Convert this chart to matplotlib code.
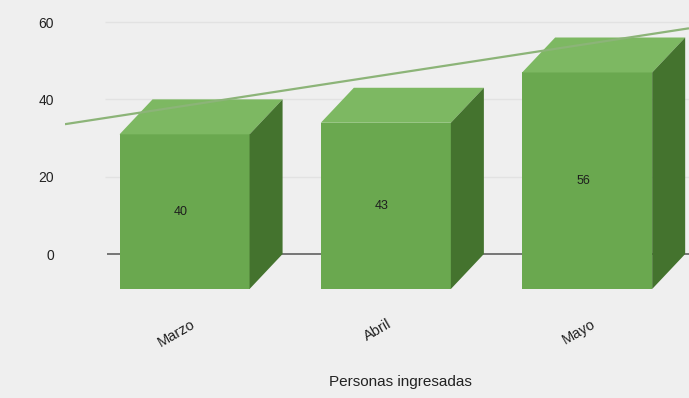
import numpy as np
import matplotlib
matplotlib.use("Agg")
from matplotlib import pyplot as plt
from matplotlib.patches import Polygon

plt.rcParams['font.family'] = ['Liberation Sans', 'DejaVu Sans']

# ---- data ----
months = ["Marzo", "Abril", "Mayo"]
personas = [40, 43, 56]
y_ticks = [0, 20, 40, 60]
x_title = "Personas ingresadas"

# ---- style ----
bg = "#efefef"
front_c = "#6aa84f"
top_c = "#7db862"
side_c = "#44732e"
trend_c = "#8cb478"
half_w = 0.323          # half width of the front face (category units)
depth_x = 0.164         # 3D depth offset, category units
depth_y = 9.05          # 3D depth offset, value units

fig = plt.figure(figsize=(6.89, 3.98), dpi=100, facecolor=bg)
ax = fig.add_axes([0.0943, 0.2452, 0.9057, 0.748])
ax.set_facecolor(bg)
ax.set_xlim(-0.594, 2.506)
ax.set_ylim(-12, 65)

x = np.arange(len(months))

# gridlines + baseline (drawn at the back plane)
for t in y_ticks[1:]:
    ax.hlines(t, -0.395, 2.506, color="#e2e2e2", lw=1, zorder=0)
ax.hlines(0, -0.385, 2.506, color="#555555", lw=1.1, zorder=0.5)

for xi, v in zip(x, personas):
    l, r = xi - half_w, xi + half_w
    fb, ft = -depth_y, v - depth_y
    front = Polygon([(l, fb), (r, fb), (r, ft), (l, ft)], closed=True,
                    facecolor=front_c, edgecolor="none", zorder=3)
    top = Polygon([(l, ft), (r, ft), (r + depth_x, v), (l + depth_x, v)],
                  closed=True, facecolor=top_c, edgecolor="none", zorder=3)
    side = Polygon([(r, fb), (r, ft), (r + depth_x, v), (r + depth_x, 0)],
                   closed=True, facecolor=side_c, edgecolor="none", zorder=3)
    for p in (front, top, side):
        ax.add_patch(p)
    ax.text(xi - 0.02, (fb + ft) / 2, str(v), ha="center", va="center",
            fontsize=9, color="#1e1e1e", zorder=4)

# linear trendline
coef = np.polyfit(x, personas, 1)
xt = np.array(ax.get_xlim())
ax.plot(xt, np.polyval(coef, xt), color=trend_c, lw=1.6, zorder=5,
        solid_capstyle="butt")

ax.set_yticks(y_ticks)
ax.set_yticklabels([str(t) for t in y_ticks])
ax.set_xticks(x - 0.04)
ax.set_xticklabels(months, rotation=30, ha="center")
ax.tick_params(axis="both", length=0, colors="#222222")
ax.tick_params(axis="y", pad=8, labelsize=10)
ax.tick_params(axis="x", pad=12, labelsize=10.5)

ax.set_xlabel(x_title, fontsize=11, color="#222222")
ax.xaxis.set_label_coords(0.538, -0.25)

for s in ax.spines.values():
    s.set_visible(False)

fig.savefig("out.png", dpi=100, facecolor=bg)
